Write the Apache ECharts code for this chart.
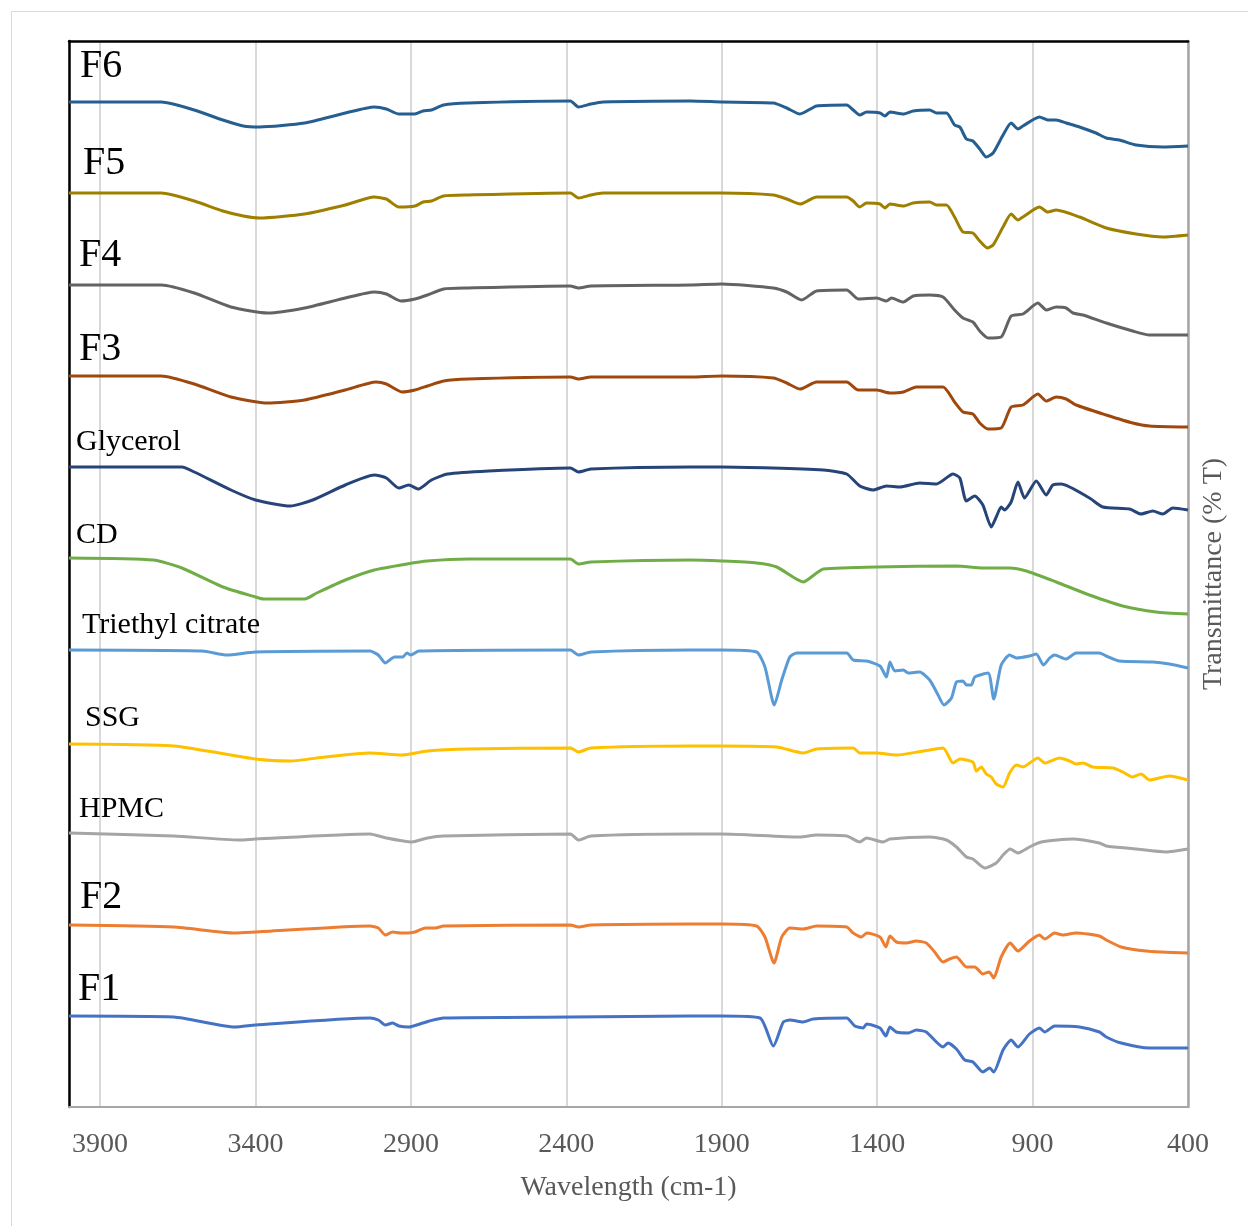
<!DOCTYPE html>
<html>
<head>
<meta charset="utf-8">
<script src="https://cdn.jsdelivr.net/npm/echarts@6/dist/echarts.min.js"></script>
<style>
html,body{margin:0;padding:0;background:#fff;}
#chart{width:1248px;height:1226px;}
</style>
</head>
<body>
<div id="chart"></div>
<script>
// Wavenumber (cm-1) tick labels
const tickLabels = [3900, 3400, 2900, 2400, 1900, 1400, 900, 400];
const categories = ['F6','F5','F4','F3','Glycerol','CD','Triethyl citrate','SSG','HPMC','F2','F1'];

// [wavenumber, stacked transmittance (a.u.)]
const F6 = [[4000,1005],[3703,1005],[3597,997],[3505,987],[3439,981],[3387,980],[3242,984],[3111,994],[3018,1000],[2979,998],[2939,993],[2887,993],[2861,996],[2834,997],[2795,1002],[2716,1004],[2387,1006],[2361,1000],[2321,1003],[2282,1005],[2000,1006],[1900,1005],[1734,1004],[1691,999],[1648,993],[1595,1001],[1498,1002],[1477,997],[1456,992],[1434,995],[1391,994],[1375,991],[1359,995],[1316,993],[1284,996],[1231,997],[1209,994],[1177,994],[1151,982],[1134,980],[1113,968],[1092,966],[1070,958],[1049,950],[1027,954],[995,972],[969,984],[947,978],[931,981],[878,990],[851,987],[824,987],[792,984],[749,980],[696,974],[663,969],[621,967],[567,962],[481,960],[400,961]];
const F5 = [[4000,914],[3703,914],[3597,906],[3505,896],[3439,891],[3387,889],[3242,893],[3111,902],[3018,910],[2979,908],[2939,900],[2887,901],[2861,905],[2834,906],[2795,911],[2716,912],[2387,914],[2361,909],[2321,912],[2282,914],[2000,914],[1900,914],[1734,912],[1691,908],[1648,903],[1595,910],[1498,910],[1477,906],[1456,900],[1434,904],[1391,903],[1375,899],[1359,903],[1316,901],[1284,904],[1231,905],[1209,902],[1177,902],[1151,890],[1124,875],[1092,874],[1070,866],[1046,859],[1027,862],[995,880],[969,893],[947,887],[931,890],[878,900],[851,895],[824,897],[749,890],[663,879],[567,873],[481,870],[400,872]];
const F4 = [[4000,822],[3703,822],[3597,814],[3479,800],[3361,794],[3242,799],[3111,809],[3018,815],[2979,813],[2933,806],[2887,808],[2847,812],[2795,818],[2716,819],[2387,821],[2361,819],[2321,821],[2000,822],[1900,823],[1734,819],[1691,815],[1643,807],[1595,816],[1498,817],[1461,808],[1402,809],[1370,806],[1354,809],[1316,805],[1284,811],[1231,812],[1188,810],[1151,797],[1124,789],[1092,785],[1070,776],[1043,769],[1001,770],[969,791],[931,793],[883,804],[856,797],[824,800],[792,799],[770,794],[738,792],[663,784],[578,776],[524,772],[400,772]];
const F3 = [[4000,731],[3703,731],[3597,723],[3479,710],[3361,704],[3242,707],[3111,717],[3012,725],[2979,723],[2929,715],[2887,717],[2847,721],[2795,726],[2716,728],[2387,730],[2361,728],[2321,730],[2000,730],[1900,731],[1734,729],[1691,724],[1648,718],[1595,725],[1498,725],[1461,717],[1402,717],[1359,714],[1316,715],[1274,720],[1188,720],[1151,705],[1124,695],[1092,693],[1070,684],[1043,678],[1001,679],[969,700],[931,702],[883,713],[856,706],[824,710],[792,708],[760,702],[663,692],[578,684],[524,681],[400,680]];
const Glycerol = [[4000,640],[3637,640],[3597,635],[3479,617],[3400,607],[3288,601],[3216,607],[3111,622],[3018,632],[2979,629],[2939,619],[2907,622],[2876,618],[2834,627],[2782,633],[2650,636],[2387,639],[2361,635],[2321,638],[2000,640],[1900,640],[1573,637],[1498,633],[1456,621],[1413,617],[1370,621],[1327,620],[1263,624],[1209,623],[1156,633],[1134,629],[1113,606],[1086,611],[1060,602],[1033,580],[1017,590],[1001,600],[990,597],[969,605],[947,625],[926,609],[888,626],[856,612],[835,622],[808,623],[717,609],[674,600],[588,598],[551,593],[513,596],[481,593],[449,599],[400,597]];
const CD = [[4000,549],[3729,547],[3637,539],[3505,520],[3400,510],[3374,508],[3242,508],[3203,514],[3111,527],[3018,537],[2913,543],[2847,546],[2716,548],[2387,548],[2361,543],[2321,545],[2000,547],[1900,546],[1788,544],[1723,540],[1638,525],[1595,534],[1573,538],[1402,540],[1145,541],[1060,539],[974,539],[920,536],[824,525],[717,512],[610,501],[503,495],[400,493]];
const TEC = [[4000,457],[3571,456],[3492,452],[3400,455],[3032,456],[3005,452],[2982,444],[2953,450],[2926,450],[2913,454],[2900,452],[2874,456],[2387,457],[2361,452],[2321,455],[2000,457],[1900,457],[1788,455],[1761,440],[1731,402],[1707,427],[1681,450],[1659,454],[1498,454],[1477,447],[1434,446],[1391,441],[1370,430],[1359,445],[1343,436],[1316,437],[1300,434],[1263,435],[1231,427],[1204,412],[1185,402],[1161,409],[1145,425],[1124,426],[1113,422],[1097,422],[1086,430],[1043,434],[1025,408],[1001,442],[974,452],[952,449],[910,451],[888,453],[865,442],[845,449],[829,452],[792,448],[760,454],[685,454],[663,451],[621,446],[513,445],[460,443],[400,439]];
const SSG = [[4000,363],[3663,361],[3400,348],[3288,346],[3176,350],[3032,354],[2929,352],[2847,356],[2716,358],[2387,359],[2361,355],[2321,359],[2000,361],[1900,361],[1723,360],[1638,354],[1595,358],[1477,359],[1456,354],[1402,354],[1338,352],[1252,356],[1188,359],[1156,344],[1134,348],[1092,345],[1081,336],[1065,340],[1049,333],[1033,330],[1017,323],[995,320],[974,334],[952,342],[931,340],[883,349],[861,344],[813,349],[781,346],[760,343],[738,344],[706,340],[642,339],[610,335],[578,330],[551,333],[524,327],[460,331],[400,327]];
const HPMC = [[4000,274],[3663,271],[3453,267],[3400,268],[3032,273],[2979,269],[2897,265],[2847,269],[2795,271],[2387,273],[2361,267],[2321,271],[2000,273],[1900,273],[1648,270],[1595,272],[1498,271],[1456,265],[1434,269],[1381,265],[1359,268],[1231,270],[1177,267],[1145,260],[1113,250],[1092,248],[1054,239],[1017,244],[995,252],[972,258],[947,254],[910,260],[872,265],[770,268],[685,264],[663,261],[567,258],[471,255],[400,258]];
const F2 = [[4000,182],[3663,180],[3466,174],[3400,175],[3032,181],[3005,179],[2982,172],[2959,175],[2933,174],[2913,174],[2887,175],[2854,179],[2821,179],[2795,181],[2387,182],[2361,180],[2321,182],[2000,183],[1900,183],[1788,181],[1761,170],[1732,144],[1707,170],[1681,179],[1638,178],[1595,181],[1498,180],[1477,174],[1450,170],[1434,174],[1391,170],[1372,160],[1359,171],[1338,165],[1306,164],[1274,166],[1242,164],[1215,155],[1188,145],[1167,148],[1145,150],[1113,140],[1086,140],[1060,133],[1040,135],[1025,129],[1001,150],[972,164],[947,156],[910,166],[878,172],[861,168],[829,174],[803,172],[760,174],[685,171],[663,167],[615,160],[535,156],[400,154]];
const F1 = [[4000,91],[3663,90],[3466,80],[3400,82],[3032,89],[3005,87],[2982,82],[2959,84],[2939,81],[2907,80],[2861,84],[2841,86],[2795,89],[2387,90],[2000,91],[1900,91],[1777,89],[1734,61],[1702,85],[1681,87],[1638,85],[1606,88],[1498,89],[1472,81],[1445,79],[1434,83],[1391,79],[1372,71],[1359,80],[1338,75],[1300,74],[1274,77],[1242,75],[1188,60],[1172,64],[1145,58],[1118,47],[1092,45],[1060,35],[1038,39],[1025,35],[995,57],[969,67],[947,60],[910,73],[878,79],[861,75],[829,81],[749,80],[685,75],[663,70],[615,64],[524,59],[400,59]];

const seriesData = [F6, F5, F4, F3, Glycerol, CD, TEC, SSG, HPMC, F2, F1];
const colors = ['#255e91','#9e7f00','#636363','#9e480e','#264478','#70ad47','#5b9bd5','#ffc000','#a5a5a5','#ed7d31','#4472c4'];

// label layout (style only)
const labelPos = [
  {x:80, y:64, size:40},{x:83, y:161, size:40},{x:79, y:253, size:40},{x:79, y:347, size:40},
  {x:76, y:440, size:30},{x:76, y:533, size:30},{x:82, y:623, size:30},{x:85, y:716, size:30},
  {x:79, y:807, size:30},{x:80, y:895, size:40},{x:78, y:987, size:40}
];

const X0 = 400; // axis offset so that ticks fall on 400, 900, ... 3900
const FONT = '"Liberation Serif", "Times New Roman", serif';

const chart = echarts.init(document.getElementById('chart'), null, {renderer:'canvas'});

const series = seriesData.map((d, i) => ({
  name: categories[i],
  type: 'line',
  data: d.map(p => [p[0] - X0, p[1]]),
  showSymbol: false,
  smooth: 0.2,
  lineStyle: {color: colors[i], width: 3},
  itemStyle: {color: colors[i]},
  animation: false,
  z: 3
}));

const graphics = [
  {type:'rect', shape:{x:11.5, y:11.5, width:1260, height:1260}, style:{fill:null, stroke:'#d9d9d9', lineWidth:1}, silent:true, z:-10}
];
categories.forEach((c, i) => {
  graphics.push({
    type:'text', z:100, x: labelPos[i].x, y: labelPos[i].y - labelPos[i].size*0.44,
    style:{text:c, fontFamily: FONT, fontSize: labelPos[i].size, fill:'#000'}
  });
});

chart.setOption({
  backgroundColor:'#fff',
  animation:false,
  grid:{left:69, right:60, top:41, bottom:119, containLabel:false},
  xAxis:[{
    type:'value', min:0, max:3600, interval:500, inverse:true,
    name:'Wavelength (cm-1)', nameLocation:'middle', nameGap:67,
    nameTextStyle:{fontFamily:FONT, fontSize:28, color:'#595959'},
    axisLine:{show:true, onZero:false, lineStyle:{color:'#a6a6a6', width:2}},
    axisTick:{show:false},
    axisLabel:{fontFamily:FONT, fontSize:28, color:'#595959', margin:24, showMaxLabel:false,
      formatter: v => { const w = v + X0; return tickLabels.indexOf(w) >= 0 ? String(w) : ''; }},
    splitLine:{show:true, lineStyle:{color:'#d9d9d9', width:2}}
  },{
    type:'value', min:0, max:3600, inverse:true, position:'top',
    axisLine:{show:true, onZero:false, lineStyle:{color:'#000', width:2.5}},
    axisTick:{show:false}, axisLabel:{show:false}, splitLine:{show:false}
  }],
  yAxis:[{
    type:'value', min:0, max:1066, position:'left',
    axisLine:{show:true, onZero:false, lineStyle:{color:'#000', width:2.5}},
    axisTick:{show:false}, axisLabel:{show:false}, splitLine:{show:false}
  },{
    type:'value', min:0, max:1066, position:'right',
    name:'Transmittance (% T)', nameLocation:'middle', nameGap:12, nameRotate:90,
    nameTextStyle:{fontFamily:FONT, fontSize:28, color:'#595959', verticalAlign:'top'},
    axisLine:{show:true, onZero:false, lineStyle:{color:'#a6a6a6', width:2.5}},
    axisTick:{show:false}, axisLabel:{show:false}, splitLine:{show:false}
  }],
  series: series,
  graphic: graphics
});
</script>
</body>
</html>
